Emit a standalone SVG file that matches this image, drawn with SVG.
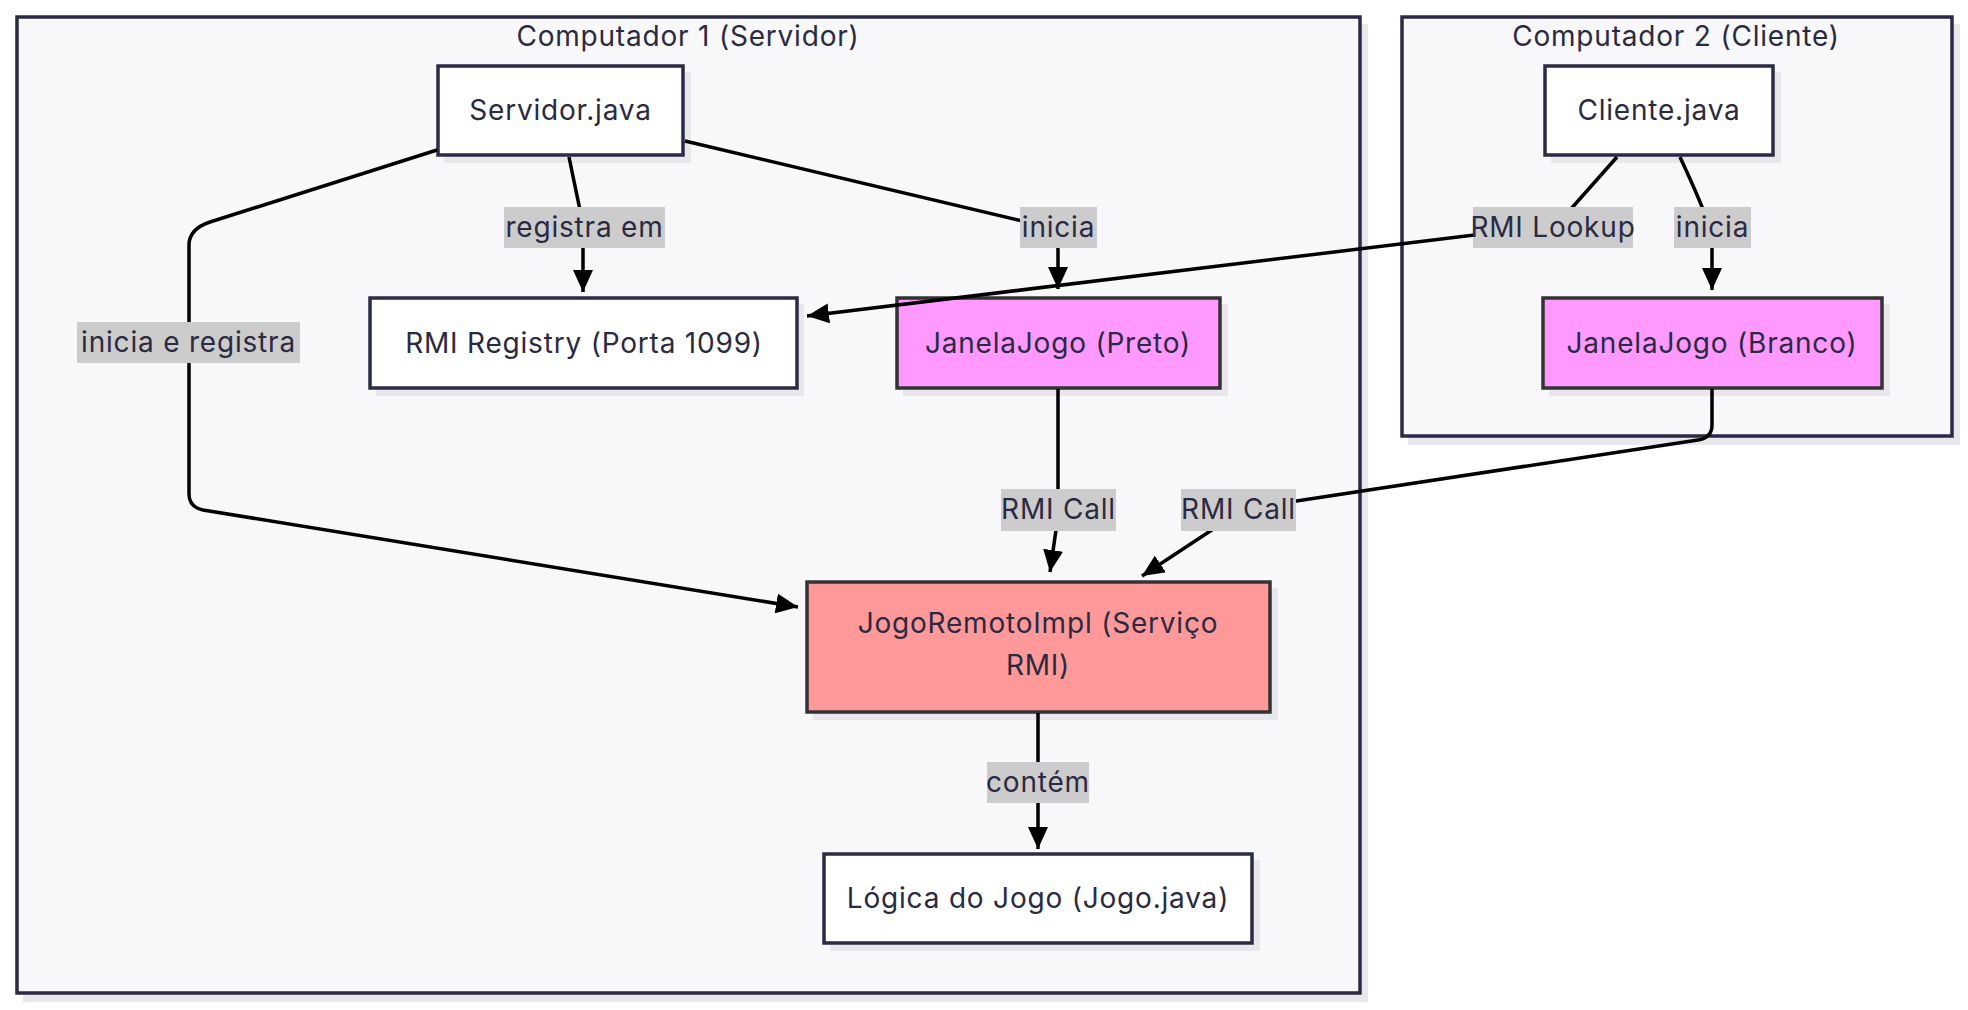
<svg xmlns="http://www.w3.org/2000/svg" width="1968" height="1010" viewBox="0 0 1968 1010">
<defs>
<marker id="arrow" viewBox="0 0 22 20" refX="22" refY="10" markerWidth="22" markerHeight="20" markerUnits="userSpaceOnUse" orient="auto">
<path d="M0,0 L22,10 L0,20 z" fill="#000"/>
</marker>
</defs>
<style>
.txt{font-family:Inter,"Liberation Sans",sans-serif;font-size:28px;fill:#2a2a42;text-anchor:middle;letter-spacing:0.8px}
.cluster{fill:#f8f8fa;stroke:#2b2b45;stroke-width:3.5}
.shadow{fill:#e8e8ec}
.node{fill:#ffffff;stroke:#2b2b45;stroke-width:3.5}
.win{fill:#ff99ff;stroke:#333333;stroke-width:3.5}
.svc{fill:#ff9999;stroke:#333333;stroke-width:3.5}
.edge{fill:none;stroke:#000;stroke-width:3.5;marker-end:url(#arrow)}
.lbl{fill:#cccccc}
</style>
<rect width="1968" height="1010" fill="#ffffff"/>
<g id="cluster-servidor">
<rect class="shadow" x="23" y="24" width="1345" height="978"/>
<rect class="cluster" x="17" y="17" width="1343" height="976"/>
<text class="txt" x="688" y="46">Computador 1 (Servidor)</text>
</g>
<g id="cluster-cliente">
<rect class="shadow" x="1408" y="24" width="552" height="421"/>
<rect class="cluster" x="1402" y="17" width="550" height="419"/>
<text class="txt" x="1676" y="46">Computador 2 (Cliente)</text>
</g>
<g id="node-servidor">
<rect class="shadow" x="444" y="72" width="247" height="91"/>
<rect class="node" x="438" y="66" width="245" height="89"/>
<text class="txt" x="560.5" y="120">Servidor.java</text>
</g>
<g id="node-registry">
<rect class="shadow" x="376" y="304" width="428" height="92"/>
<rect class="node" x="370" y="298" width="427" height="90"/>
<text class="txt" x="584" y="353">RMI Registry (Porta 1099)</text>
</g>
<g id="node-janela-preto">
<rect class="shadow" x="903" y="304" width="325" height="92"/>
<rect class="win" x="897" y="298" width="323" height="90"/>
<text class="txt" x="1058" y="353">JanelaJogo (Preto)</text>
</g>
<g id="node-cliente">
<rect class="shadow" x="1551" y="72" width="230" height="91"/>
<rect class="node" x="1545" y="66" width="228" height="89"/>
<text class="txt" x="1659" y="120">Cliente.java</text>
</g>
<g id="node-janela-branco">
<rect class="shadow" x="1549" y="304" width="341" height="92"/>
<rect class="win" x="1543" y="298" width="339" height="90"/>
<text class="txt" x="1712" y="353">JanelaJogo (Branco)</text>
</g>
<g id="node-jogoremoto">
<rect class="shadow" x="813" y="588" width="465" height="132"/>
<rect class="svc" x="807" y="582" width="463" height="130"/>
<text class="txt" x="1038" y="633">JogoRemotoImpl (Serviço</text>
<text class="txt" x="1038" y="675">RMI)</text>
</g>
<g id="node-logica">
<rect class="shadow" x="830" y="860" width="430" height="91"/>
<rect class="node" x="824" y="854" width="428" height="89"/>
<text class="txt" x="1038" y="908">Lógica do Jogo (Jogo.java)</text>
</g>
<g id="connectors">
<path class="edge" d="M569,157 L580,210 Q583,222 583,235 L583,292"/>
<path class="edge" d="M685,141 L1035,224 Q1058,230 1058,250 L1058,289"/>
<path class="edge" d="M437,150 L210,222 Q189,229 189,245 L189,494 Q189,507 203,510 L798,607"/>
<path class="edge" d="M1617,157 L1570,210 Q1558,223 1540,227 L807,316"/>
<path class="edge" d="M1680,157 Q1700,200 1707,220 Q1712,235 1712,250 L1712,290"/>
<path class="edge" d="M1058,389 L1058,500 Q1058,515 1056,530 L1050,572"/>
<path class="edge" d="M1712,389 L1712,425 Q1712,438 1698,440 L1270,505 Q1250,508 1230,518 L1142,576"/>
<path class="edge" d="M1038,713 L1038,849"/>
</g>
<g id="edge-labels">
<rect class="lbl" x="504" y="207" width="161" height="41"/>
<text class="txt" x="584.5" y="237">registra em</text>
<rect class="lbl" x="1020" y="207" width="77" height="41"/>
<text class="txt" x="1058.5" y="237">inicia</text>
<rect class="lbl" x="77" y="322" width="223" height="41"/>
<text class="txt" x="188.5" y="352">inicia e registra</text>
<rect class="lbl" x="1473" y="207" width="160" height="41"/>
<text class="txt" x="1553" y="237">RMI Lookup</text>
<rect class="lbl" x="1674" y="207" width="77" height="41"/>
<text class="txt" x="1712.5" y="237">inicia</text>
<rect class="lbl" x="1001" y="489" width="115" height="42"/>
<text class="txt" x="1058.5" y="519">RMI Call</text>
<rect class="lbl" x="1181" y="489" width="115" height="42"/>
<text class="txt" x="1238.5" y="519">RMI Call</text>
<rect class="lbl" x="987" y="762" width="102" height="41"/>
<text class="txt" x="1038" y="792">contém</text>
</g>
</svg>
